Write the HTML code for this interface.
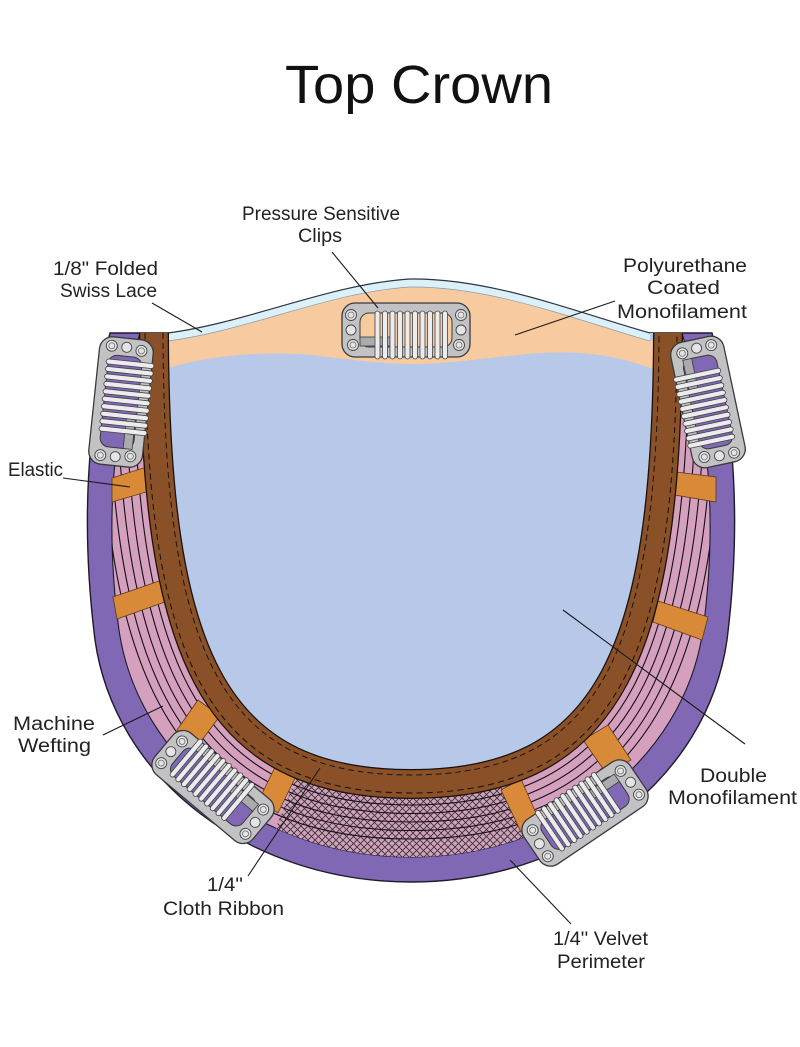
<!DOCTYPE html>
<html><head><meta charset="utf-8"><style>html,body{margin:0;padding:0;background:#fff}svg{display:block}</style></head>
<body>
<svg width="800" height="1047" viewBox="0 0 800 1047" xmlns="http://www.w3.org/2000/svg" xmlns:xlink="http://www.w3.org/1999/xlink" font-family="'Liberation Sans', sans-serif">
<defs>
  <pattern id="mesh" width="7" height="7" patternUnits="userSpaceOnUse">
    <rect width="7" height="7" fill="#cda3b9"/>
    <path d="M0,0L7,7M7,0L0,7" stroke="#3b2b36" stroke-width="0.8"/>
  </pattern>
  <clipPath id="pc"><path d="M140,333 C114,420 104,520 119,630 C138,760 262,857 411,857 C560,857 684,760 703,630 C718,520 708,420 682,333 Z"/></clipPath>
  <mask id="wm" maskUnits="userSpaceOnUse" x="0" y="0" width="800" height="1047">
    <g fill="none">
      <path d="M154,333 C155,650 210,784 411,784 C612,784 667,650 668,333" stroke="#fff" stroke-width="111.1"/>
      <path d="M154,333 C155,650 210,784 411,784 C612,784 667,650 668,333" stroke="#000" stroke-width="108.9"/>
      <path d="M154,333 C155,650 210,784 411,784 C612,784 667,650 668,333" stroke="#fff" stroke-width="94.1"/>
      <path d="M154,333 C155,650 210,784 411,784 C612,784 667,650 668,333" stroke="#000" stroke-width="91.9"/>
      <path d="M154,333 C155,650 210,784 411,784 C612,784 667,650 668,333" stroke="#fff" stroke-width="77.1"/>
      <path d="M154,333 C155,650 210,784 411,784 C612,784 667,650 668,333" stroke="#000" stroke-width="74.9"/>
      <path d="M154,333 C155,650 210,784 411,784 C612,784 667,650 668,333" stroke="#fff" stroke-width="60.1"/>
      <path d="M154,333 C155,650 210,784 411,784 C612,784 667,650 668,333" stroke="#000" stroke-width="57.9"/>
      <path d="M154,333 C155,650 210,784 411,784 C612,784 667,650 668,333" stroke="#fff" stroke-width="43.1"/>
      <path d="M154,333 C155,650 210,784 411,784 C612,784 667,650 668,333" stroke="#000" stroke-width="40.9"/>
    </g>
  </mask>
  <g id="clip">
    <rect x="-64" y="-27" width="128" height="54" rx="13" fill="#c2c2c5" stroke="#3a3a3a" stroke-width="1.3"/>
    <rect x="-46" y="-17" width="92" height="34" rx="9" fill="currentColor" stroke="#3a3a3a" stroke-width="1"/>
    <rect x="-46" y="7" width="30" height="9" fill="#ababaf" stroke="#3a3a3a" stroke-width="0.8"/>
    <g fill="#ececee" stroke="#444" stroke-width="0.8">
      <rect x="-31" y="-19" width="5" height="48" rx="2.5"/>
      <rect x="-23.5" y="-19" width="5" height="48" rx="2.5"/>
      <rect x="-16" y="-19" width="5" height="48" rx="2.5"/>
      <rect x="-8.5" y="-19" width="5" height="48" rx="2.5"/>
      <rect x="-1" y="-19" width="5" height="48" rx="2.5"/>
      <rect x="6.5" y="-19" width="5" height="48" rx="2.5"/>
      <rect x="14" y="-19" width="5" height="48" rx="2.5"/>
      <rect x="21.5" y="-19" width="5" height="48" rx="2.5"/>
      <rect x="29" y="-19" width="5" height="48" rx="2.5"/>
      <rect x="36.5" y="-19" width="5" height="48" rx="2.5"/>
    </g>
    <g fill="#e4e4e6" stroke="#444" stroke-width="0.9">
      <circle cx="-55" cy="-15" r="5.5"/><circle cx="-55" cy="0" r="5"/><circle cx="-53" cy="15" r="5.5"/>
      <circle cx="55" cy="-15" r="5.5"/><circle cx="55" cy="0" r="5"/><circle cx="53" cy="15" r="5.5"/>
    </g>
    <g fill="none" stroke="#666" stroke-width="0.8">
      <circle cx="-55" cy="-15" r="3"/><circle cx="-53" cy="15" r="3"/>
      <circle cx="55" cy="-15" r="3"/><circle cx="53" cy="15" r="3"/>
    </g>
  </g>
</defs>

<!-- purple perimeter -->
<path d="M110,333 C88,420 80,520 95,640 C115,780 250,882 411,882 C572,882 707,780 727,640 C742,520 734,420 712,333 Z" fill="#8068b4" stroke="#1e1a2a" stroke-width="1.4"/>
<!-- pink wefting -->
<path d="M140,333 C114,420 104,520 119,630 C138,760 262,857 411,857 C560,857 684,760 703,630 C718,520 708,420 682,333 Z" fill="#d5a0be" stroke="#1e1a2a" stroke-width="1.1"/>
<!-- mesh -->
<g clip-path="url(#pc)">
  <polygon points="300,768 262,862 548,862 508,780" fill="url(#mesh)"/>
  <rect x="0" y="0" width="800" height="1047" fill="#141014" mask="url(#wm)"/>
</g>
<!-- elastics -->
<g fill="#d98a38" stroke="#5a3a1a" stroke-width="0.8">
  <polygon points="112,478 150,466 153,490 112,502"/>
  <polygon points="113,597 162,580 165,602 117,619"/>
  <polygon points="177,730 198,700 220,716 199,744"/>
  <polygon points="258,802 277,763 298,772 278,813"/>
  <polygon points="676,472 716,477 716,502 675,495"/>
  <polygon points="658,601 708,617 702,640 653,622"/>
  <polygon points="583,740 608,725 631,760 606,773"/>
  <polygon points="501,790 521,779 539,820 521,832"/>
</g>
<!-- blue interior -->
<path d="M154,333 C155,650 210,784 411,784 C612,784 667,650 668,333 Z" fill="#b7c8e8"/>
<!-- peach -->
<path d="M154,341 L168,341 C250,330 330,292 410,287 C490,286 570,318 650,341 L668,341 L668,368 L650,368 C640,365 620,356 580,353 C540,350 490,359 440,363 C400,366 370,362 320,356 C270,350 210,355 168,368 L154,368 Z" fill="#f7cb9f"/>
<!-- lace -->
<path d="M168,333 C250,322 330,284 410,279 C490,278 570,310 650,333 L650,341 C570,318 490,286 410,287 C330,292 250,330 168,341 Z" fill="#dcf0f9"/>
<path d="M168,333 C250,322 330,284 410,279 C490,278 570,310 650,333" fill="none" stroke="#2a3644" stroke-width="1.2"/>
<path d="M168,341 C250,330 330,292 410,287 C490,286 570,318 650,341" fill="none" stroke="#8a9aa8" stroke-width="0.7"/>
<!-- brown ribbon -->
<g fill="none">
  <path d="M154,333 C155,650 210,784 411,784 C612,784 667,650 668,333" stroke="#1a120c" stroke-width="30"/>
  <path d="M154,333 C155,650 210,784 411,784 C612,784 667,650 668,333" stroke="#8a5128" stroke-width="27.4"/>
  <path d="M154,333 C155,650 210,784 411,784 C612,784 667,650 668,333" stroke="#1a120c" stroke-width="19" stroke-dasharray="6 4"/>
  <path d="M154,333 C155,650 210,784 411,784 C612,784 667,650 668,333" stroke="#8a5128" stroke-width="17"/>
</g>
<!-- clips -->
<use href="#clip" xlink:href="#clip" color="#f7cb9f" transform="translate(406,330)"/>
<use href="#clip" xlink:href="#clip" color="#8068b4" transform="translate(121,402) rotate(-84)"/>
<use href="#clip" xlink:href="#clip" color="#8068b4" transform="translate(708,402) rotate(78)"/>
<use href="#clip" xlink:href="#clip" color="#8068b4" transform="translate(213,787) rotate(220)"/>
<use href="#clip" xlink:href="#clip" color="#8068b4" transform="translate(585,813) rotate(146)"/>
<!-- leader lines -->
<g stroke="#1a1a1a" stroke-width="1.1" fill="none">
  <line x1="152" y1="303" x2="202" y2="332"/>
  <line x1="332" y1="252" x2="378" y2="308"/>
  <line x1="615" y1="301" x2="515" y2="335"/>
  <line x1="63" y1="478" x2="130" y2="487"/>
  <line x1="103" y1="735" x2="163" y2="706"/>
  <line x1="563" y1="610" x2="745" y2="744"/>
  <line x1="320" y1="768" x2="248" y2="876"/>
  <line x1="510" y1="860" x2="571" y2="924"/>
</g>
<!-- text -->
<text x="285" y="103" font-size="54" fill="#111" textLength="268" lengthAdjust="spacingAndGlyphs">Top Crown</text>
<g font-size="19" fill="#222">
  <text x="242" y="220" textLength="158" lengthAdjust="spacingAndGlyphs">Pressure Sensitive</text>
  <text x="298" y="242" textLength="44" lengthAdjust="spacingAndGlyphs">Clips</text>
  <text x="53" y="275" textLength="105" lengthAdjust="spacingAndGlyphs">1/8" Folded</text>
  <text x="60" y="297" textLength="97" lengthAdjust="spacingAndGlyphs">Swiss Lace</text>
  <text x="623" y="272" textLength="124" lengthAdjust="spacingAndGlyphs">Polyurethane</text>
  <text x="647" y="294" textLength="73" lengthAdjust="spacingAndGlyphs">Coated</text>
  <text x="617" y="318" textLength="130" lengthAdjust="spacingAndGlyphs">Monofilament</text>
  <text x="8" y="476" textLength="55" lengthAdjust="spacingAndGlyphs">Elastic</text>
  <text x="13" y="730" textLength="82" lengthAdjust="spacingAndGlyphs">Machine</text>
  <text x="18" y="752" textLength="73" lengthAdjust="spacingAndGlyphs">Wefting</text>
  <text x="700" y="782" textLength="67" lengthAdjust="spacingAndGlyphs">Double</text>
  <text x="668" y="804" textLength="129" lengthAdjust="spacingAndGlyphs">Monofilament</text>
  <text x="207" y="891" textLength="36" lengthAdjust="spacingAndGlyphs">1/4''</text>
  <text x="163" y="915" textLength="121" lengthAdjust="spacingAndGlyphs">Cloth Ribbon</text>
  <text x="553" y="945" textLength="95" lengthAdjust="spacingAndGlyphs">1/4'' Velvet</text>
  <text x="557" y="968" textLength="88" lengthAdjust="spacingAndGlyphs">Perimeter</text>
</g>
</svg>
</body></html>
